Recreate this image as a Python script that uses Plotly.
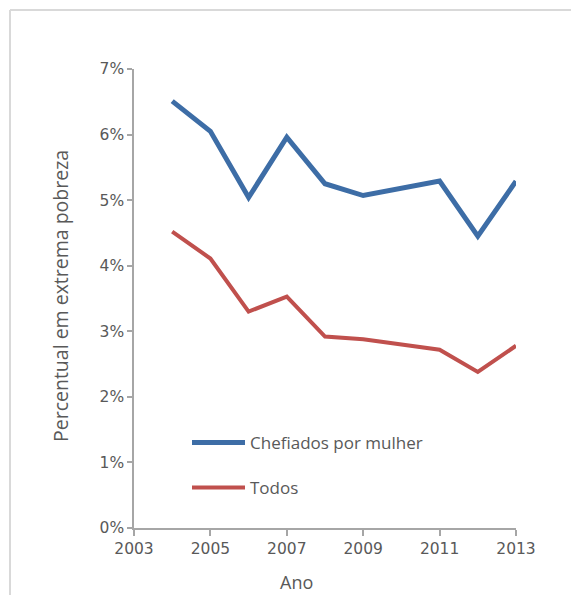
import plotly.graph_objects as go

anos = [2004, 2005, 2006, 2007, 2008, 2009, 2011, 2012, 2013]
chefiados_por_mulher = [0.0651, 0.0605, 0.0504, 0.0596, 0.0525, 0.0507, 0.0529, 0.0445, 0.0529]
todos = [0.0452, 0.0411, 0.0330, 0.0353, 0.0292, 0.0288, 0.0272, 0.0238, 0.0278]
x_ticks = [2003, 2005, 2007, 2009, 2011, 2013]
y_ticks = [0, 0.01, 0.02, 0.03, 0.04, 0.05, 0.06, 0.07]

# the page body has an 8px margin, so the figure is made 8px smaller
OFF = 8
W, H = 579 - OFF, 595 - OFF
PL, PT, PR, PB = 134, 69, 516, 528          # plot area in page pixels
L, T = PL - OFF, PT - OFF
R, B = 579 - PR, 595 - PB
pw, ph = PR - PL, PB - PT

def px(x):
    return (x - PL) / pw

def py(y):
    return 1 - (y - PT) / ph

BLUE = "#3d6da6"
RED = "#c0504d"
GRAY = "#595959"
AXIS = "#a6a6a6"
TXT = "Open Sans"
TICK = "DejaVu Sans"

fig = go.Figure()
fig.add_trace(go.Scatter(x=anos, y=chefiados_por_mulher, mode="lines",
                         name="Chefiados por mulher", line=dict(color=BLUE, width=5),
                         legend="legend"))
fig.add_trace(go.Scatter(x=anos, y=todos, mode="lines",
                         name="Todos", line=dict(color=RED, width=4),
                         legend="legend2"))

legend_common = dict(bgcolor="rgba(0,0,0,0)", font=dict(family=TXT, size=17, color=GRAY),
                     itemwidth=53, xanchor="left", yanchor="middle", borderwidth=0)

fig.update_layout(
    width=W, height=H,
    margin=dict(l=L, r=R, t=T, b=B),
    paper_bgcolor="white", plot_bgcolor="white",
    showlegend=True,
    legend=dict(x=px(187), y=py(443), **legend_common),
    legend2=dict(x=px(187), y=py(488), **legend_common),
    xaxis=dict(range=[2003, 2013], tickvals=x_ticks, ticks="outside", ticklen=6,
               tickcolor=AXIS, tickwidth=1.5, showline=True, linecolor=AXIS, linewidth=1.5,
               showgrid=False, zeroline=False,
               tickfont=dict(family=TICK, size=15.5, color=GRAY)),
    yaxis=dict(range=[0, 0.07], tickvals=y_ticks, tickformat=".0%", ticks="outside",
               ticklen=5, tickcolor=AXIS, tickwidth=1.5, showline=True, linecolor=AXIS,
               linewidth=1.5, showgrid=False, zeroline=False,
               tickfont=dict(family=TICK, size=15.5, color=GRAY)),
    annotations=[
        dict(text="Ano", xref="paper", yref="paper", x=px(296), y=py(582),
             xanchor="center", yanchor="middle", showarrow=False,
             font=dict(family=TXT, size=18, color=GRAY)),
        dict(text="Percentual em extrema pobreza", xref="paper", yref="paper",
             x=px(60), y=py(296), xanchor="center", yanchor="middle", textangle=-90,
             showarrow=False, font=dict(family=TXT, size=19.5, color=GRAY)),
    ],
    shapes=[
        dict(type="line", xref="paper", yref="paper", x0=px(10), x1=px(579),
             y0=py(10), y1=py(10), line=dict(color="#d9d9d9", width=2)),
        dict(type="line", xref="paper", yref="paper", x0=px(10), x1=px(10),
             y0=py(10), y1=py(595), line=dict(color="#d9d9d9", width=2)),
    ],
)

fig.write_html("out.html")
